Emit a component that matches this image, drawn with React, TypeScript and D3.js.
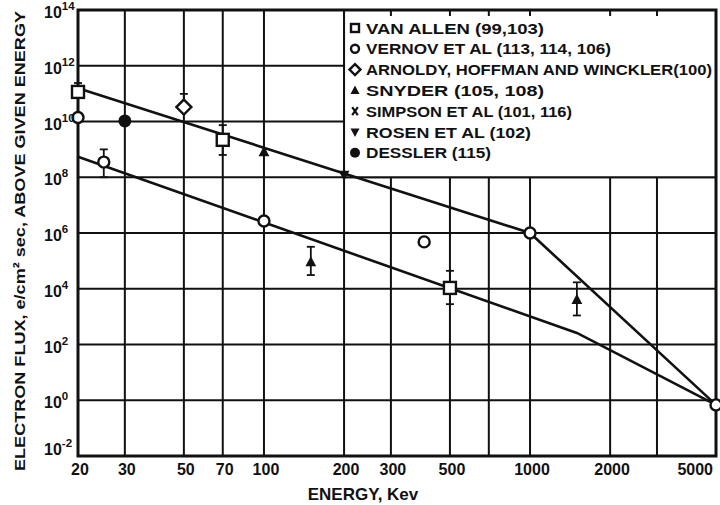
import { line, scaleLog } from "d3";

type Pt = [number, number, number | null, number | null];

// legend
const legendNames = [
  "VAN ALLEN (99,103)",
  "VERNOV ET AL (113, 114, 106)",
  "ARNOLDY, HOFFMAN AND WINCKLER(100)",
  "SNYDER (105, 108)",
  "SIMPSON ET AL (101, 116)",
  "ROSEN ET AL (102)",
  "DESSLER (115)"
];
const legendMarkers = ["square", "circle", "diamond", "triangle", "cross", "triangleDown", "dot"];

// measurements: [energy keV, flux, error low, error high]
const vanAllen: Pt[] = [
  [20, 1.15e11, null, 2.4e11],
  [70, 2.2e9, 6.3e8, 7.4e9],
  [500, 1.07e4, 2.8e3, 4.4e4]
];
const vernov: Pt[] = [
  [20, 1.4e10, null, null],
  [25, 3.5e8, 1e8, 1e9],
  [100, 2.7e6, null, null],
  [400, 4.8e5, null, null],
  [1000, 1e6, null, null],
  [5000, 0.68, null, null]
];
const arnoldy: Pt[] = [[50, 3.3e10, null, 9.8e10]];
const snyder: Pt[] = [
  [100, 8.1e8, null, null],
  [150, 9e4, 3.1e4, 3.2e5],
  [1500, 4e3, 1.1e3, 1.7e4]
];
const simpson: Pt[] = [];
const rosen: Pt[] = [[200, 1.2e8, null, null]];
const dessler: Pt[] = [[30, 1.05e10, null, null]];
const seriesData = [vanAllen, vernov, arnoldy, snyder, simpson, rosen, dessler];

// fitted spectra
const upperCurve: [number, number][] = [[21, 1.35e11], [1000, 1e6], [5000, 0.68]];
const lowerCurve: [number, number][] = [[20, 5.4e8], [1500, 2.6e2], [5000, 0.68]];

// axes
const xGrid = [30, 50, 70, 100, 200, 300, 500, 700, 1000, 2000, 3000];
const xLabels = [20, 30, 50, 70, 100, 200, 300, 500, 1000, 2000, 5000];
const yExponents = [14, 12, 10, 8, 6, 4, 2, 0, -2];

const font = "'Liberation Sans', Arial, sans-serif";
const ink = "#111";

function Marker({ kind, x, y, s }: { kind: string; x: number; y: number; s: number }) {
  const h = s / 2;
  switch (kind) {
    case "square":
      return <rect x={x - h} y={y - h} width={s} height={s} fill="#fff" stroke={ink} strokeWidth={2.4} />;
    case "circle":
      return <circle cx={x} cy={y} r={h} fill="#fff" stroke={ink} strokeWidth={2.4} />;
    case "diamond":
      return (
        <path
          d={`M${x},${y - h}L${x + h},${y}L${x},${y + h}L${x - h},${y}Z`}
          fill="#fff"
          stroke={ink}
          strokeWidth={2.4}
        />
      );
    case "triangle":
      return <path d={`M${x},${y - h}L${x + h * 0.9},${y + h * 0.7}L${x - h * 0.9},${y + h * 0.7}Z`} fill={ink} />;
    case "triangleDown":
      return <path d={`M${x},${y + h}L${x + h * 0.9},${y - h * 0.7}L${x - h * 0.9},${y - h * 0.7}Z`} fill={ink} />;
    case "cross":
      return (
        <g stroke={ink} strokeWidth={2.2}>
          <line x1={x - h * 0.7} y1={y - h} x2={x + h * 0.7} y2={y + h} />
          <line x1={x + h * 0.7} y1={y - h} x2={x - h * 0.7} y2={y + h} />
        </g>
      );
    default:
      return <circle cx={x} cy={y} r={h} fill={ink} />;
  }
}

export default function App() {
  const width = 720;
  const height = 505;
  const left = 78;
  const right = 716;
  const top = 10;
  const bottom = 456;

  const x = scaleLog().domain([20, 5000]).range([left, right]);
  const y = scaleLog().domain([1e-2, 1e14]).range([bottom, top]);
  const path = line<[number, number]>()
    .x((d) => x(d[0]))
    .y((d) => y(d[1]));

  const legendLeft = x(200);
  const legendBottom = y(1e8);
  // the hand lettering runs wide, so stretch each legend entry to its printed length
  const legendWidths = [178, 245, 346, 178, 206, 165, 125];
  const markerSizes: Record<string, number> = {
    square: 12,
    circle: 11,
    diamond: 15,
    triangle: 12,
    triangleDown: 12,
    cross: 8,
    dot: 13
  };
  const legendSizes: Record<string, number> = {
    square: 8,
    circle: 8,
    diamond: 11,
    triangle: 10,
    triangleDown: 10,
    cross: 8,
    dot: 10
  };

  return (
    <svg
      width={width}
      height={height}
      style={{ position: "absolute", left: 0, top: 0, background: "#fff" }}
      fontFamily={font}
      fontWeight="bold"
    >
      {/* grid */}
      <g stroke={ink} strokeWidth={2}>
        {xGrid.map((v) => (
          <line key={v} x1={x(v)} x2={x(v)} y1={top} y2={bottom} />
        ))}
        {yExponents.slice(1, -1).map((e) => (
          <line key={e} x1={left} x2={right} y1={y(10 ** e)} y2={y(10 ** e)} />
        ))}
      </g>

      {/* legend panel */}
      <rect x={legendLeft} y={top} width={right - legendLeft} height={legendBottom - top} fill="#fff" />
      <g stroke={ink} strokeWidth={2}>
        <line x1={legendLeft} x2={legendLeft} y1={top} y2={legendBottom} />
        <line x1={legendLeft} x2={right} y1={legendBottom} y2={legendBottom} />
        {xGrid
          .filter((v) => v > 200)
          .map((v) => (
            <line key={v} x1={x(v)} x2={x(v)} y1={top} y2={top + 6} />
          ))}
      </g>
      {legendNames.map((name, i) => {
        const cy = 28 + i * 20.8;
        return (
          <g key={name}>
            <Marker kind={legendMarkers[i]} x={355} y={cy} s={legendSizes[legendMarkers[i]]} />
            <text
              x={366}
              y={cy + 5.5}
              fontSize={14.5}
              fill={ink}
              textLength={legendWidths[i]}
              lengthAdjust="spacingAndGlyphs"
            >
              {name}
            </text>
          </g>
        );
      })}

      {/* fitted lines */}
      <g fill="none" stroke={ink} strokeWidth={2.6}>
        <path d={path(upperCurve) ?? ""} />
        <path d={path(lowerCurve) ?? ""} />
      </g>

      {/* frame */}
      <rect x={left} y={top} width={right - left} height={bottom - top} fill="none" stroke={ink} strokeWidth={3} />

      {/* data points */}
      {seriesData.map((rows, si) =>
        rows.map((d, i) => {
          const px = x(d[0]);
          const py = y(d[1]);
          const lo = d[2] != null ? y(d[2]) : py;
          const hi = d[3] != null ? y(d[3]) : py;
          return (
            <g key={`${si}-${i}`}>
              {(d[2] != null || d[3] != null) && (
                <g stroke={ink} strokeWidth={1.8}>
                  <line x1={px} x2={px} y1={hi} y2={lo} />
                  {d[3] != null && <line x1={px - 4} x2={px + 4} y1={hi} y2={hi} />}
                  {d[2] != null && <line x1={px - 4} x2={px + 4} y1={lo} y2={lo} />}
                </g>
              )}
              <Marker kind={legendMarkers[si]} x={px} y={py} s={markerSizes[legendMarkers[si]]} />
            </g>
          );
        })
      )}

      {/* y tick labels */}
      {yExponents.map((e) => {
        const ty = y(10 ** e);
        const base = e === -2 ? ty - 1 : ty + 8;
        return (
          <text key={e} x={44} y={base} fontSize={16} fill={ink}>
            <tspan>10</tspan>
            <tspan fontSize={11.5} dy={-8}>
              {e}
            </tspan>
          </text>
        );
      })}

      {/* x tick labels */}
      {xLabels.map((v) => (
        <text
          key={v}
          x={v === 5000 ? 713 : x(v) + 2}
          y={475}
          fontSize={16}
          fill={ink}
          textAnchor={v === 5000 ? "end" : "middle"}
        >
          {v}
        </text>
      ))}

      {/* axis titles */}
      <text x={363} y={500} fontSize={17} fill={ink} textAnchor="middle">
        ENERGY, Kev
      </text>
      <text
        transform="translate(25, 241) rotate(-90)"
        fontSize={15.5}
        fill={ink}
        textAnchor="middle"
        textLength={460}
        lengthAdjust="spacingAndGlyphs"
      >
        ELECTRON FLUX, e/cm² sec, ABOVE GIVEN ENERGY
      </text>
    </svg>
  );
}
